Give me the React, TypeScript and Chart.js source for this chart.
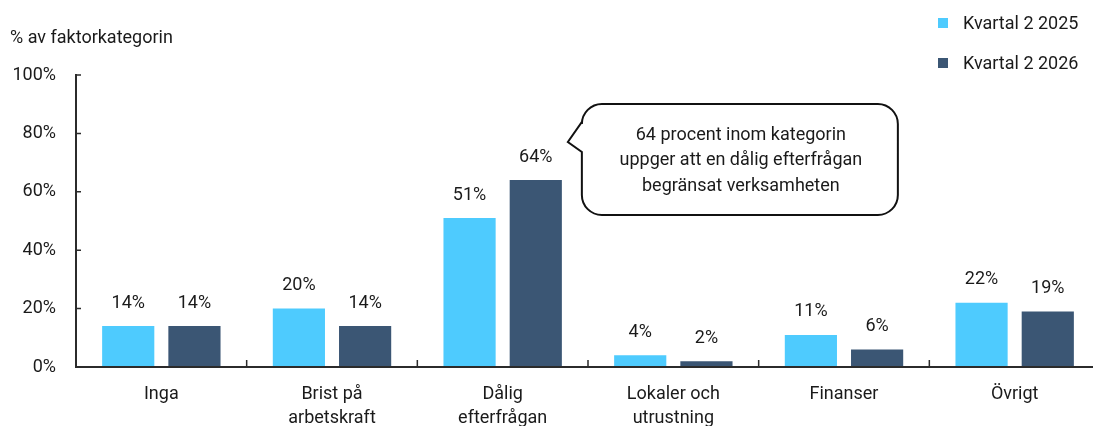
import React, { useEffect, useRef } from 'react';
import { Chart, registerables } from 'chart.js';

Chart.register(...registerables);

const categories: string[][] = [
  ['Inga'],
  ['Brist på', 'arbetskraft'],
  ['Dålig', 'efterfrågan'],
  ['Lokaler och', 'utrustning'],
  ['Finanser'],
  ['Övrigt'],
];
const seriesNames = ['Kvartal 2 2025', 'Kvartal 2 2026'];
const q2025 = [14, 20, 51, 4, 11, 22];
const q2026 = [14, 14, 64, 2, 6, 19];
const yTicks = [0, 20, 40, 60, 80, 100];
const yTitle = '% av faktorkategorin';
const calloutLines = [
  '64 procent inom kategorin',
  'uppger att en dålig efterfrågan',
  'begränsat verksamheten',
];

const COLORS = ['#4ECBFE', '#3B5674'];
const FONT = 'Roboto, "Noto Sans", sans-serif';
const TEXT = '#1a1a1a';
const AXIS = '#2b2b2b';
const FS = 18;

const overlayPlugin = {
  id: 'overlay',
  afterDatasetsDraw(chart: any) {
    const { ctx, chartArea, scales } = chart;
    const { left, right, bottom } = chartArea;
    const x = scales.x;
    const y = scales.y;
    ctx.save();

    // axes
    ctx.strokeStyle = AXIS;
    ctx.lineWidth = 2;
    ctx.beginPath();
    ctx.moveTo(left, y.getPixelForValue(100) - 1);
    ctx.lineTo(left, bottom);
    ctx.lineTo(right, bottom);
    ctx.stroke();

    ctx.lineWidth = 1.5;
    ctx.beginPath();
    yTicks.forEach((v) => {
      const py = y.getPixelForValue(v);
      ctx.moveTo(left, py);
      ctx.lineTo(left + 5, py);
    });
    for (let i = 1; i < categories.length; i++) {
      const px = (x.getPixelForValue(i - 1) + x.getPixelForValue(i)) / 2;
      ctx.moveTo(px, bottom);
      ctx.lineTo(px, bottom - 7);
    }
    ctx.stroke();

    // data labels
    ctx.fillStyle = TEXT;
    ctx.font = `${FS}px ${FONT}`;
    ctx.textAlign = 'center';
    ctx.textBaseline = 'middle';
    chart.data.datasets.forEach((ds: any, di: number) => {
      const meta = chart.getDatasetMeta(di);
      meta.data.forEach((bar: any, i: number) => {
        ctx.fillText(`${ds.data[i]}%`, bar.x, bar.y - 23);
      });
    });

    // y title
    ctx.textAlign = 'left';
    ctx.fillText(yTitle, 10, 38);

    // legend
    chart.data.datasets.forEach((ds: any, di: number) => {
      const cy = 23 + di * 40;
      ctx.fillStyle = ds.backgroundColor;
      ctx.fillRect(938, cy - 5, 10, 10);
      ctx.fillStyle = TEXT;
      ctx.textAlign = 'left';
      ctx.fillText(ds.label, 963, cy + 1);
    });

    // callout anchored to the dark Dålig bar
    const bar = chart.getDatasetMeta(1).data[2];
    const tipX = bar.x + bar.width / 2 + 6;
    const tipY = 142;
    const L = tipX + 14;
    const T = 104;
    const R = L + 316;
    const B = 215;
    const r = 20;
    ctx.beginPath();
    ctx.moveTo(L + r, T);
    ctx.lineTo(R - r, T);
    ctx.arcTo(R, T, R, T + r, r);
    ctx.lineTo(R, B - r);
    ctx.arcTo(R, B, R - r, B, r);
    ctx.lineTo(L + r, B);
    ctx.arcTo(L, B, L, B - r, r);
    ctx.lineTo(L, 152);
    ctx.lineTo(tipX, tipY);
    ctx.lineTo(L, 122);
    ctx.lineTo(L, T + r);
    ctx.arcTo(L, T, L + r, T, r);
    ctx.closePath();
    ctx.fillStyle = '#ffffff';
    ctx.fill();
    ctx.strokeStyle = '#111111';
    ctx.lineWidth = 2;
    ctx.stroke();

    ctx.fillStyle = TEXT;
    ctx.textAlign = 'center';
    const cx = (L + R) / 2 + 1;
    calloutLines.forEach((line, i) => {
      ctx.fillText(line, cx, 135 + i * 25.5);
    });

    ctx.restore();
  },
};

export default function App() {
  const ref = useRef<HTMLCanvasElement | null>(null);

  useEffect(() => {
    if (!ref.current) return;
    const chart = new Chart(ref.current, {
      type: 'bar',
      data: {
        labels: categories,
        datasets: [
          {
            label: seriesNames[0],
            data: q2025,
            backgroundColor: COLORS[0],
            categoryPercentage: 0.776,
            barPercentage: 0.788,
          },
          {
            label: seriesNames[1],
            data: q2026,
            backgroundColor: COLORS[1],
            categoryPercentage: 0.776,
            barPercentage: 0.788,
          },
        ],
      },
      options: {
        responsive: false,
        animation: false,
        layout: { padding: { top: 75, left: 0, right: 0, bottom: 0 } },
        plugins: {
          legend: { display: false },
          tooltip: { enabled: false },
          title: { display: false },
        },
        scales: {
          x: {
            grid: { display: false, drawTicks: false },
            border: { display: false },
            ticks: {
              color: TEXT,
              font: { family: FONT, size: FS, lineHeight: 1.3 },
              padding: 16,
              maxRotation: 0,
              autoSkip: false,
            },
            afterFit: (s: any) => {
              s.height = 59;
            },
          },
          y: {
            min: 0,
            max: 100,
            grid: { display: false, drawTicks: false },
            border: { display: false },
            ticks: {
              stepSize: 20,
              color: TEXT,
              font: { family: FONT, size: FS },
              padding: 20,
              callback: (v: any) => `${v}%`,
            },
            afterFit: (s: any) => {
              s.width = 76;
            },
          },
        },
      },
      plugins: [overlayPlugin],
    });
    return () => chart.destroy();
  }, []);

  return (
    <div
      style={{
        position: 'fixed',
        left: 0,
        top: 0,
        width: 1093,
        height: 426,
        overflow: 'hidden',
        background: '#ffffff',
      }}
    >
      <canvas ref={ref} width={1100} height={426} style={{ width: 1100, height: 426, display: 'block' }} />
    </div>
  );
}
